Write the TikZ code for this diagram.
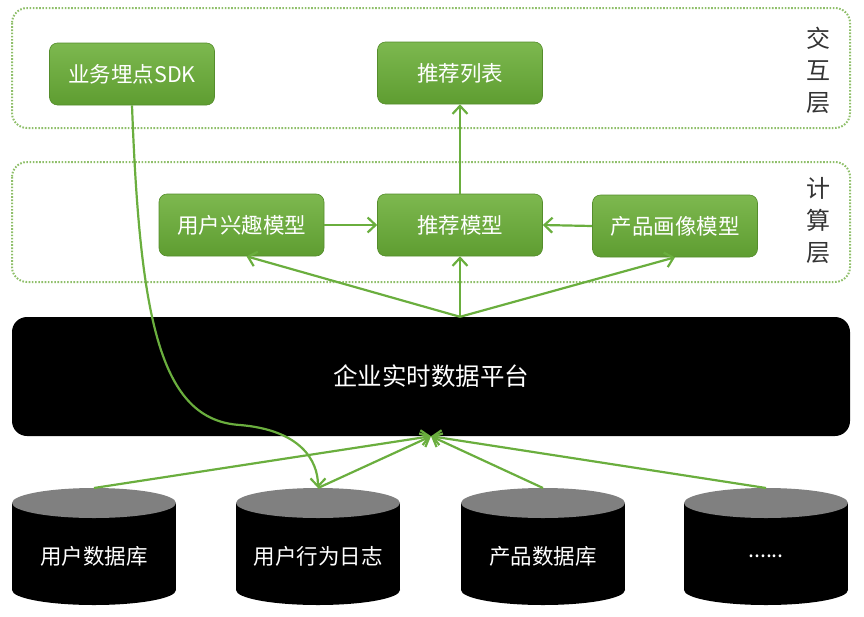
\documentclass[tikz,border=0pt]{standalone}
\usepackage{fontspec}
\setmainfont{Noto Sans CJK SC}
\usetikzlibrary{arrows.meta}
\definecolor{gtop}{HTML}{7DB84F}
\definecolor{gbot}{HTML}{5E9D31}
\definecolor{gline}{HTML}{6AAE3E}
\definecolor{gdot}{HTML}{8FBF6A}
\definecolor{labgray}{HTML}{333333}
\newcommand\sixdots{......}
\pgfdeclareverticalshading{platshade}{100bp}{color(0bp)=(black); color(82bp)=(black); color(100bp)=(black!70)}
\begin{document}
\begin{tikzpicture}[x=1pt,y=-1pt,
  gbox/.style={draw=gbot!90!black, line width=0.6pt, rounded corners=8pt, top color=gtop, bottom color=gbot,
    minimum width=165pt, minimum height=62pt, inner sep=0pt, text=white, font=\fontsize{21.5}{26}\selectfont},
  layer/.style={draw=gdot, line width=2pt, dash pattern=on 1.6pt off 1.6pt, rounded corners=15pt},
  laylab/.style={align=center, text=labgray, font=\fontsize{24}{32}\selectfont},
  arr/.style={draw=gline, line width=2.2pt, -{Straight Barb[length=8pt,width=15pt,line width=2.2pt]}},
  dbtext/.style={text=white, font=\fontsize{21.5}{26}\selectfont}
]
\useasboundingbox (0,0) rectangle (864,616);

% layers
\draw[layer] (12,8) rectangle (850,128);
\draw[layer] (12,162) rectangle (850,282);
\node[laylab] (lab1) at (818,70) {交\\互\\层};
\node[laylab] (lab2) at (818,221) {计\\算\\层};

% boxes
\node[gbox] (sdk) at (132,74) {业务埋点SDK};
\node[gbox] (list) at (460,73) {推荐列表};
\node[gbox] (uim) at (241.5,225) {用户兴趣模型};
\node[gbox] (rec) at (460,225) {推荐模型};
\node[gbox] (pim) at (675,226) {产品画像模型};

% platform
\node[rounded corners=15pt, shading=platshade, minimum width=838pt, minimum height=119pt, inner sep=0pt,
  text=white, font=\fontsize{24.5}{28}\selectfont] (plat) at (431,376.5) {企业实时数据平台};

% cylinders
\foreach \x/\n/\t in {94/db1/用户数据库, 318/db2/用户行为日志, 543/db3/产品数据库, 766/db4/\sixdots}{
  \fill[black] (\x-82,503) rectangle (\x+82,590);
  \fill[black] (\x,590) ellipse [x radius=82, y radius=15];
  \fill[black!50] (\x,503) ellipse [x radius=82, y radius=15];
  \coordinate (\n) at (\x,488);
  \node[dbtext] (\n t) at (\x,556) {\t};
}

% arrows
\draw[arr] (rec.north) -- (list.south);
\draw[arr] (uim.east) -- (rec.west);
\draw[arr] (pim.west) -- (rec.east);
\coordinate (fan) at (rec.south |- plat.north);
\draw[arr] (fan) -- (rec.south);
\draw[arr] (fan) -- ([xshift=5pt]uim.south);
\draw[arr] (fan) -- (pim.south);
\foreach \n in {db1,db2,db3,db4}{
  \draw[arr] (\n) -- (plat.south);
}
\draw[arr] (sdk.south) .. controls (140,320) and (160,420) .. (240,425) .. controls (300,430) and (318,460) .. (db2);
\end{tikzpicture}
\end{document}
